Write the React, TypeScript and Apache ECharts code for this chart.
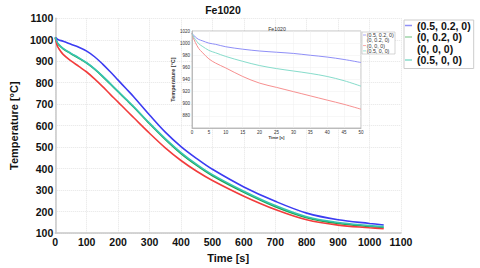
import React, { useEffect, useRef } from "react";
import * as echarts from "echarts";

// ---- data ----
const seriesNames = ["(0.5, 0.2, 0)", "(0, 0.2, 0)", "(0, 0, 0)", "(0.5, 0, 0)"];
const mainColors = ["#3c3cf2", "#22a550", "#f23c3c", "#36c4b0"];
const insetColors = ["#8f8ff7", "#9fd4a8", "#f79090", "#86dccb"];

const mainTime = [0, 5, 10, 25, 50, 75, 100, 125, 150, 175, 200, 225, 250, 300, 350, 400, 450, 500, 600, 700, 800, 900, 1000, 1045];
const mainBlue = [1012, 1005, 1000, 993, 979, 965, 947, 921, 888, 851, 812, 773, 734, 650, 570, 503, 447, 397, 315, 248, 193, 162, 145, 138];
const mainGreen = [1010, 990, 978, 958, 935, 914, 891, 863, 830, 794, 758, 722, 686, 609, 536, 470, 415, 367, 290, 223, 172, 145, 131, 126];
const mainRed = [1010, 978, 962, 932, 902, 876, 850, 818, 783, 746, 710, 673, 637, 565, 497, 438, 388, 345, 272, 210, 162, 137, 125, 120];
const mainTeal = [1012, 992, 980, 960, 937, 916, 893, 865, 832, 796, 760, 724, 688, 612, 540, 475, 420, 372, 295, 228, 176, 149, 135, 130];

const insetTime = [0, 0.5, 1, 2, 3, 5, 7, 10, 15, 20, 25, 30, 35, 40, 45, 50];
const insetBlue = [1016, 1013, 1010, 1006, 1004, 1000, 998, 994, 990, 987, 985, 983, 980, 977, 973, 968];
const insetRed = [1016, 1007, 1001, 991, 985, 974, 967, 959, 945, 934, 927, 920, 913, 906, 899, 891];
const insetTeal = [1016, 1010, 1006, 999, 995, 988, 984, 978, 970, 963, 958, 954, 950, 945, 938, 929];

const titleText = "Fe1020";
const xName = "Time [s]";
const yName = "Temperature [°C]";

const pair = (t: number[], v: number[]) => t.map((x, i) => [x, v[i]]);

export default function App() {
  const ref = useRef<HTMLDivElement>(null);
  useEffect(() => {
    if (!ref.current) return;
    const chart = echarts.init(ref.current, undefined, { renderer: "svg" });
    const font = "'Liberation Sans', Arial, sans-serif";
    const mainLabel = { color: "#111", fontWeight: "bold" as const, fontSize: 10.5, fontFamily: font };
    const insetLabel = { color: "#333", fontSize: 4.5, fontFamily: font };
    const split = { show: true, lineStyle: { color: "#e4e4e4", type: "dotted" as const, width: 1 } };
    const plain = (v: number) => String(v);

    const mainData = [mainBlue, mainGreen, mainRed, mainTeal];
    const mainSeries = mainData.map((d, i) => ({
      type: "line",
      name: seriesNames[i],
      xAxisIndex: 0,
      yAxisIndex: 0,
      data: pair(mainTime, d),
      showSymbol: false,
      smooth: 0.35,
      lineStyle: { color: mainColors[i], width: 1.6 },
      itemStyle: { color: mainColors[i] },
    }));
    const insetDefs = [
      { idx: 0, data: insetBlue },
      { idx: 2, data: insetRed },
      { idx: 3, data: insetTeal },
    ];
    const insetSeries = insetDefs.map((s) => ({
      type: "line",
      name: "inset" + seriesNames[s.idx],
      xAxisIndex: 1,
      yAxisIndex: 1,
      z: 8,
      data: pair(insetTime, s.data),
      showSymbol: false,
      smooth: 0.35,
      lineStyle: { color: insetColors[s.idx], width: 1 },
    }));

    const insetLegendRows = [35, 40.3, 45.6, 50.9];
    const insetLegendIcon = [true, false, true, true];
    const insetLegend: any[] = [
      {
        type: "rect",
        shape: { x: 362, y: 32, width: 33, height: 22 },
        style: { fill: "#fff", stroke: "#bbb", lineWidth: 0.6 },
        z: 20,
      },
    ];
    seriesNames.forEach((n, i) => {
      if (insetLegendIcon[i])
        insetLegend.push({
          type: "line",
          shape: { x1: 363, y1: insetLegendRows[i], x2: 366, y2: insetLegendRows[i] },
          style: { stroke: insetColors[i], lineWidth: 0.8 },
          z: 21,
        });
      insetLegend.push({
        type: "text",
        x: 366.7,
        y: insetLegendRows[i],
        style: { text: n, fontSize: 5.3, fontFamily: font, fill: "#333", verticalAlign: "middle", align: "left" },
        z: 21,
      });
    });

    chart.setOption({
      animation: false,
      backgroundColor: "#fff",
      grid: [
        { left: 44, top: 18.3, width: 357, height: 218.7 },
        { left: 192, top: 31, width: 169, height: 97, show: true, backgroundColor: "#fff", borderColor: "#b0b0b0", borderWidth: 0.8, z: 5 },
      ],
      xAxis: [
        {
          type: "value", gridIndex: 0, min: 0, max: 1100, interval: 100,
          axisLine: { show: true, lineStyle: { color: "#c8c8c8", width: 1.5 } },
          axisTick: { show: false },
          axisLabel: { ...mainLabel, margin: 3, formatter: plain },
          splitLine: split,
          name: xName, nameLocation: "middle", nameGap: 14,
          nameTextStyle: { ...mainLabel, fontSize: 11 },
        },
        {
          type: "value", gridIndex: 1, min: 0, max: 50, interval: 5, z: 6,
          axisLine: { show: true, onZero: false, lineStyle: { color: "#b0b0b0", width: 0.8 } },
          axisTick: { show: false },
          axisLabel: { ...insetLabel, margin: 2, formatter: plain },
          splitLine: { show: true, lineStyle: { color: "#eee", width: 0.5 } },
          name: xName, nameLocation: "middle", nameGap: 6,
          nameTextStyle: { ...insetLabel, fontSize: 4.2, fontWeight: "bold" },
        },
      ],
      yAxis: [
        {
          type: "value", gridIndex: 0, min: 100, max: 1100, interval: 100,
          axisLine: { show: true, lineStyle: { color: "#c8c8c8", width: 1.5 } },
          axisTick: { show: false },
          axisLabel: { ...mainLabel, margin: 2, formatter: plain },
          splitLine: split,
          name: yName, nameLocation: "middle", nameGap: 25,
          nameTextStyle: { ...mainLabel, fontSize: 11 },
        },
        {
          type: "value", gridIndex: 1, min: 860, max: 1020, interval: 20, z: 6,
          axisLine: { show: true, lineStyle: { color: "#b0b0b0", width: 0.8 } },
          axisTick: { show: false },
          axisLabel: { ...insetLabel, margin: 2, formatter: (v: number) => (v === 860 ? "" : String(v)) },
          splitLine: { show: true, lineStyle: { color: "#eee", width: 0.5 } },
          name: yName, nameLocation: "middle", nameGap: 11,
          nameTextStyle: { ...insetLabel, fontSize: 5.5, fontWeight: "bold" },
        },
      ],
      legend: [
        {
          data: seriesNames.map((n, i) =>
            i === 2
              ? { name: n, icon: "rect", itemStyle: { color: "rgba(255,255,255,0)", opacity: 0 } }
              : { name: n, icon: "rect", itemStyle: { color: insetColors[i] } }
          ),
          orient: "vertical",
          left: 404,
          top: 20,
          itemWidth: 7,
          itemHeight: 1.5,
          itemGap: 0.5,
          padding: [0, 3, 3, 1],
          borderColor: "#ccc",
          borderWidth: 1,
          selectedMode: false,
          textStyle: { ...mainLabel, fontSize: 10.5, lineHeight: 11 },
        },
      ],
      graphic: [
        {
          type: "text", x: 223, y: 10.3, z: 20,
          style: { text: titleText, fontSize: 10.5, fontWeight: "bold", fontFamily: font, fill: "#111", align: "center", verticalAlign: "middle" },
        },
        {
          type: "text", x: 277, y: 29, z: 20,
          style: { text: titleText, fontSize: 5.2, fontFamily: font, fill: "#333", align: "center", verticalAlign: "middle" },
        },
        ...insetLegend,
      ],
      series: [...mainSeries, ...insetSeries],
    });
    return () => chart.dispose();
  }, []);
  return (
    <div
      ref={ref}
      style={{ position: "fixed", left: 0, top: 0, width: 480, height: 268, background: "#fff" }}
    />
  );
}
